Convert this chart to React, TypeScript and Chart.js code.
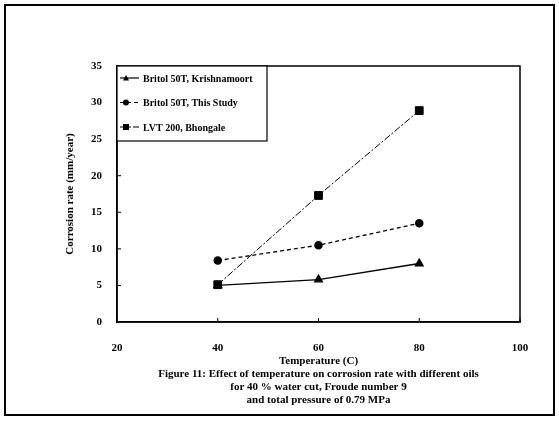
import React, { useEffect, useRef } from 'react';
import { Chart, registerables } from 'chart.js';

Chart.register(...registerables);

const temperatures = [40, 60, 80];
const krishnamoort = [5.0, 5.8, 8.0];
const thisStudy = [8.4, 10.5, 13.5];
const bhongale = [5.1, 17.3, 28.9];
const seriesLabels = ['Britol 50T, Krishnamoort', 'Britol 50T, This Study', 'LVT 200, Bhongale'];
const seriesStyles = ['triangle', 'circle', 'rect'];
const xTitle = 'Temperature (C)';
const yTitle = 'Corrosion rate (mm/year)';
const caption = [
  'Figure 11: Effect of temperature on corrosion rate with different oils',
  'for 40 % water cut, Froude number 9',
  'and total pressure of 0.79 MPa',
];

const FONT = '"Liberation Serif", "Times New Roman", serif';

function drawMarker(ctx: CanvasRenderingContext2D, style: string, x: number, y: number, r: number) {
  ctx.beginPath();
  if (style === 'circle') {
    ctx.arc(x, y, r, 0, Math.PI * 2);
  } else if (style === 'rect') {
    ctx.rect(x - r, y - r, r * 2, r * 2);
  } else {
    ctx.moveTo(x, y - r);
    ctx.lineTo(x + r, y + r * 0.8);
    ctx.lineTo(x - r, y + r * 0.8);
    ctx.closePath();
  }
  ctx.fill();
}

const framePlugin = {
  id: 'frameAndLegend',
  afterDraw(chart: any) {
    const { ctx, chartArea: a } = chart;
    ctx.save();
    ctx.strokeStyle = '#000';
    ctx.fillStyle = '#000';
    ctx.setLineDash([]);
    // plot frame
    ctx.lineWidth = 1.5;
    ctx.strokeRect(a.left, a.top, a.right - a.left, a.bottom - a.top);
    // inward ticks
    ctx.lineWidth = 1;
    const xs = chart.scales.x;
    xs.ticks.forEach((t: any) => {
      const px = xs.getPixelForValue(t.value);
      ctx.beginPath();
      ctx.moveTo(px, a.bottom);
      ctx.lineTo(px, a.bottom - 4);
      ctx.stroke();
    });
    const ys = chart.scales.y;
    ys.ticks.forEach((t: any) => {
      const py = ys.getPixelForValue(t.value);
      ctx.beginPath();
      ctx.moveTo(a.left, py);
      ctx.lineTo(a.left + 4, py);
      ctx.stroke();
    });
    // outer border
    ctx.lineWidth = 2;
    ctx.strokeRect(5, 5, 549, 410);
    // legend
    const lx = a.left;
    const ly = a.top;
    const lw = 150;
    const lh = 75;
    ctx.fillStyle = '#fff';
    ctx.fillRect(lx, ly, lw, lh);
    ctx.lineWidth = 1.2;
    ctx.strokeRect(lx, ly, lw, lh);
    chart.data.datasets.forEach((ds: any, i: number) => {
      const y = ly + 12 + i * 24.5;
      ctx.strokeStyle = '#000';
      ctx.fillStyle = '#000';
      ctx.lineWidth = 1.2;
      ctx.setLineDash(ds.borderDash || []);
      ctx.beginPath();
      ctx.moveTo(lx + 3, y);
      ctx.lineTo(lx + 22, y);
      ctx.stroke();
      ctx.setLineDash([]);
      drawMarker(ctx, seriesStyles[i], lx + 9, y, 3);
      ctx.font = `bold 10px ${FONT}`;
      ctx.textAlign = 'left';
      ctx.textBaseline = 'middle';
      ctx.fillText(ds.label, lx + 26, y + 1);
    });
    ctx.restore();
  },
};

export default function App() {
  const ref = useRef<HTMLCanvasElement | null>(null);

  useEffect(() => {
    if (!ref.current) return;
    const tickFont = { family: FONT, size: 11, weight: 'bold' as const };
    const chart = new Chart(ref.current, {
      type: 'line',
      data: {
        datasets: [
          {
            label: seriesLabels[0],
            data: temperatures.map((t, i) => ({ x: t, y: krishnamoort[i] })),
            borderColor: '#000',
            backgroundColor: '#000',
            borderWidth: 1.3,
            pointStyle: 'triangle',
            pointRadius: 4.5,
            borderDash: [],
            tension: 0,
          },
          {
            label: seriesLabels[1],
            data: temperatures.map((t, i) => ({ x: t, y: thisStudy[i] })),
            borderColor: '#000',
            backgroundColor: '#000',
            borderWidth: 1.3,
            pointStyle: 'circle',
            pointRadius: 3.6,
            borderDash: [4, 3],
            tension: 0,
          },
          {
            label: seriesLabels[2],
            data: temperatures.map((t, i) => ({ x: t, y: bhongale[i] })),
            borderColor: '#000',
            backgroundColor: '#000',
            borderWidth: 1,
            pointStyle: 'rect',
            pointRadius: 5.5,
            borderDash: [7, 2, 2, 2],
            tension: 0,
          },
        ],
      },
      options: {
        animation: false,
        responsive: false,
        maintainAspectRatio: false,
        layout: { padding: { left: 60, top: 66, right: 39, bottom: 10 } },
        plugins: {
          legend: { display: false },
          tooltip: { enabled: false },
        },
        scales: {
          x: {
            type: 'linear',
            min: 20,
            max: 100,
            ticks: { stepSize: 20, color: '#000', font: tickFont, padding: 12, maxRotation: 0 },
            grid: { display: false },
            border: { display: true, color: '#000', width: 1.5 },
            title: {
              display: true,
              text: [xTitle, ...caption],
              color: '#000',
              font: { family: FONT, size: 11, weight: 'bold' },
              padding: { top: 4, bottom: 4 },
            },
            afterFit: (s: any) => {
              s.height = 89;
            },
          },
          y: {
            type: 'linear',
            min: 0,
            max: 35,
            ticks: { stepSize: 5, color: '#000', font: tickFont, padding: 7 },
            grid: { display: false },
            border: { display: true, color: '#000', width: 1.5 },
            title: {
              display: true,
              text: yTitle,
              color: '#000',
              font: { family: FONT, size: 11, weight: 'bold' },
              padding: { top: 4, bottom: 4 },
            },
            afterFit: (s: any) => {
              s.width = 57;
            },
          },
        },
      },
      plugins: [framePlugin],
    });
    return () => chart.destroy();
  }, []);

  return (
    <div style={{ position: 'absolute', left: 0, top: 0, width: 559, height: 421, background: '#fff' }}>
      <canvas ref={ref} width={559} height={421} style={{ display: 'block', width: 559, height: 421 }} />
    </div>
  );
}
